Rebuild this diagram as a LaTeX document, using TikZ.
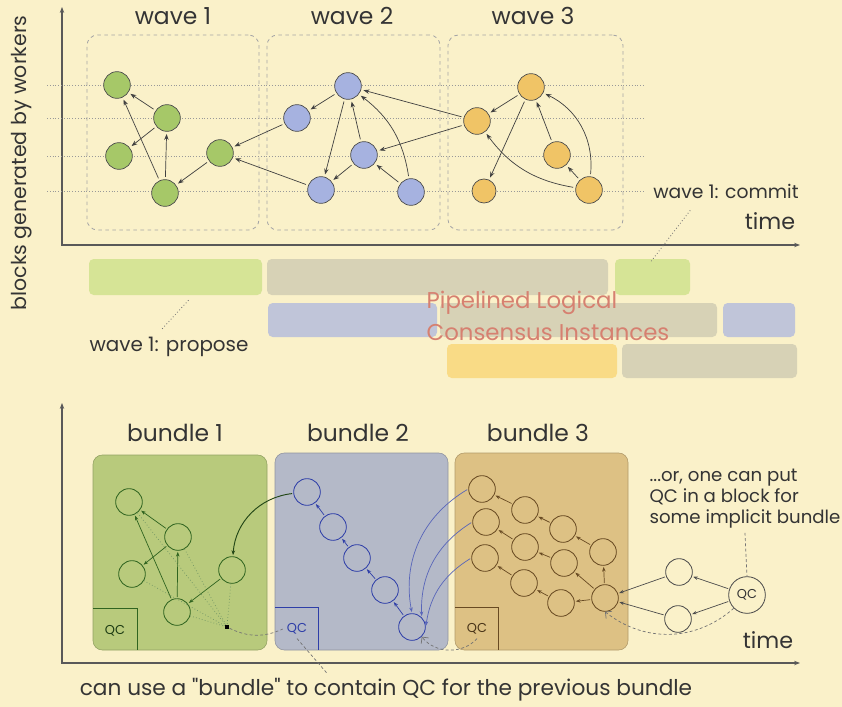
\documentclass[tikz,border=0pt]{standalone}
\usepackage{fontspec}
\setmainfont{Poppins}
\usepackage{tikz}
\usetikzlibrary{arrows.meta,positioning,calc,fit}
\definecolor{paper}{RGB}{250,241,201}
\definecolor{ink}{RGB}{52,52,52}
\definecolor{ballgreen}{RGB}{166,200,104}
\definecolor{ballblue}{RGB}{166,178,224}
\definecolor{ballorange}{RGB}{240,196,102}
\definecolor{bargreen}{RGB}{214,228,150}
\definecolor{bargray}{RGB}{215,210,182}
\definecolor{barblue}{RGB}{192,197,217}
\definecolor{barorange}{RGB}{249,219,134}
\definecolor{bdlgreen}{RGB}{184,202,124}
\definecolor{bdlblue}{RGB}{180,185,200}
\definecolor{bdltan}{RGB}{221,193,132}
\definecolor{strkgreen}{RGB}{48,100,32}
\definecolor{strkblue}{RGB}{46,62,168}
\definecolor{strkbrown}{RGB}{104,74,34}
\definecolor{salmon}{RGB}{214,128,112}

\begin{document}
\begin{tikzpicture}[x=0.03cm, y=-0.03cm,
    lbl/.style={font=\fontsize{17}{20}\selectfont, text=ink},
    title/.style={font=\fontsize{20}{22}\selectfont, text=ink},
    axis/.style={{Stealth[length=5pt]}-{Stealth[length=5pt]}, draw=black!65, line width=0.9pt},
    ball/.style={circle, draw=black!70, line width=0.6pt, minimum size=0.8cm, inner sep=0pt},
    gball/.style={ball, fill=ballgreen},
    bball/.style={ball, fill=ballblue},
    oball/.style={ball, fill=ballorange},
    ring/.style={circle, line width=0.7pt, minimum size=0.8cm, inner sep=0pt},
    wavebox/.style={draw=black!35, dashed, rounded corners=9pt, line width=0.7pt, inner sep=0pt},
    bar/.style={rounded corners=4pt, inner sep=0pt},
    bundlebox/.style={rounded corners=8pt, inner sep=0pt, line width=0.5pt},
    arr/.style={-{Stealth[length=5pt]}, draw=black!75, semithick, shorten >=2pt, shorten <=2pt},
    sarr/.style={-{Stealth[length=4pt]}, line width=0.6pt, shorten >=1pt, shorten <=1pt},
    dotline/.style={dotted, draw=black!55, line width=0.7pt},
    dashline/.style={draw=black!55, dash pattern=on 2.5pt off 2pt, line width=0.6pt}
]
\useasboundingbox (0,0) rectangle (842,707);
\fill[paper] (0,0) rectangle (842,707);

% ---------- upper chart: waves of blocks ----------
\draw[axis] (62,7) -- (62,245) -- (800,245);
\node[lbl, font=\fontsize{17.5}{20}\selectfont, rotate=90] (ylab) at (22,163) {blocks generated by workers};

\foreach \y in {85,118,156,191}
  \draw[dotted, draw=black!40] (47,\y) -- (645,\y);

\node[wavebox, fit={(87,35) (259,230)}] (w1) {};
\node[wavebox, fit={(267,35) (440,230)}] (w2) {};
\node[wavebox, fit={(448,35) (623,230)}] (w3) {};
\node[title] at (173,16) {wave 1};
\node[title] at (352,16) {wave 2};
\node[title] at (533,16) {wave 3};

% wave 1
\node[gball] (g1) at (117,85) {};
\node[gball] (g2) at (167,118) {};
\node[gball] (g3) at (119,156) {};
\node[gball] (g4) at (220,153) {};
\node[gball] (g5) at (165,193) {};
% wave 2
\node[bball] (b1) at (348,86) {};
\node[bball] (b2) at (297,118) {};
\node[bball] (b3) at (364,155) {};
\node[bball] (b4) at (321,190) {};
\node[bball] (b5) at (411,192) {};
% wave 3
\node[oball] (o1) at (531,87) {};
\node[oball] (o2) at (477,121) {};
\node[oball] (o3) at (557,155) {};
\node[oball, minimum size=0.72cm] (o4) at (484,191) {};
\node[oball] (o5) at (589,190) {};

\draw[arr] (g2) -- (g1);
\draw[arr] (g2) -- (g3);
\draw[arr] (g5) -- (g2);
\draw[arr] (g5) -- (g1);
\draw[arr] (g4) -- (g5);

\draw[arr] (b2) -- (g4);
\draw[arr] (b4) -- (g4);
\draw[arr] (b1) -- (b2);
\draw[arr] (b1) -- (b4);
\draw[arr] (b3) -- (b1);
\draw[arr] (b3) -- (b4);
\draw[arr] (b5) -- (b3);
\draw[arr] (b5) to[bend right=22] (b1);

\draw[arr] (o2) -- (b1);
\draw[arr] (o2) -- (b3);
\draw[arr] (o1) -- (o2);
\draw[arr] (o1) -- (o4);
\draw[arr] (o3) -- (o1);
\draw[arr] (o5) -- (o3);
\draw[arr] (o5) to[bend right=35] (o1);
\draw[arr] (o5) to[bend left=22] (o2);

\node[lbl, font=\fontsize{16}{19}\selectfont] (cmt) at (726,191) {wave 1: commit};
\node[lbl, font=\fontsize{19}{20}\selectfont] (t1) at (770,221) {time};

% consensus instances, one row per wave
\node[bar, fill=bargreen, fit={(89,259) (262,295)}] (p1) {};
\node[bar, fill=bargray, fit={(267,259) (608,295)}] (p2) {};
\node[bar, fill=bargreen, fit={(615,259) (690,295)}] (p3) {};
\node[bar, fill=barblue, fit={(268,303) (437,337)}] (q1) {};
\node[bar, fill=bargray, fit={(440,303) (717,337)}] (q2) {};
\node[bar, fill=barblue, fit={(723,303) (795,337)}] (q3) {};
\node[bar, fill=barorange, fit={(447,344) (617,378)}] (r1) {};
\node[bar, fill=bargray, fit={(622,344) (797,378)}] (r2) {};

\node[lbl, font=\fontsize{19.5}{27}\selectfont, text=salmon, align=left] (pipe) at (548,316)
  {Pipelined Logical\\Consensus Instances};
\node[lbl] (prop) at (169,347) {wave 1: propose};

\draw[dotline] ($(cmt.south west)+(41,8)$) -- ($(p3.north west)+(36,3)$);
\draw[dotline] ($(p1.south)+(13,5)$) -- ($(prop.north)+(-8,-3)$);

% ---------- lower chart: bundles ----------
\draw[axis] (62,403) -- (62,663) -- (800,663);

\node[bundlebox, fill=bdlgreen, draw=bdlgreen!80!black, fit={(93,455) (267,650)}] (bd1) {};
\node[bundlebox, fill=bdlblue, draw=bdlblue!80!black, fit={(275,453) (448,650)}] (bd2) {};
\node[bundlebox, fill=bdltan, draw=bdltan!80!black, fit={(455,453) (628,650)}] (bd3) {};
\node[title] at (175,433) {bundle 1};
\node[title] at (358,433) {bundle 2};
\node[title] at (538,433) {bundle 3};

\draw[strkgreen, line width=0.5pt] (93,608) -| (137,650);
\draw[strkblue, line width=0.5pt] (275,607) -| (318,650);
\draw[strkbrown, line width=0.5pt] (455,607) -| (498,650);
\node[font=\fontsize{11}{13}\selectfont, text=strkgreen!60!black] (qc1) at (115,631) {QC};
\node[font=\fontsize{11}{13}\selectfont, text=strkblue] (qc2) at (297,629) {QC};
\node[font=\fontsize{11}{13}\selectfont, text=strkbrown!70!black] (qc3) at (477,629) {QC};

% bundle 1
\node[ring, draw=strkgreen] (n1) at (129,502) {};
\node[ring, draw=strkgreen] (n2) at (178,537) {};
\node[ring, draw=strkgreen] (n3) at (132,574) {};
\node[ring, draw=strkgreen] (n4) at (232,570) {};
\node[ring, draw=strkgreen] (n5) at (177,612) {};
\node[fill=black, minimum size=4pt, inner sep=0pt] (qdot) at (227,627) {};

\foreach \n in {n1,n2,n3,n4,n5}
  \draw[dotted, draw=strkgreen!70, line width=0.6pt] (\n) -- (qdot);
\draw[sarr, strkgreen] (n2) -- (n1);
\draw[sarr, strkgreen] (n2) -- (n3);
\draw[sarr, strkgreen] (n5) -- (n2);
\draw[sarr, strkgreen] (n5) -- (n1);
\draw[sarr, strkgreen] (n4) -- (n5);

% bundle 2
\node[ring, draw=strkblue] (m1) at (307,492) {};
\node[ring, draw=strkblue] (m2) at (333,527) {};
\node[ring, draw=strkblue] (m3) at (357,558) {};
\node[ring, draw=strkblue] (m4) at (385,590) {};
\node[ring, draw=strkblue] (m5) at (412,627) {};
\draw[sarr, strkblue] (m2) -- (m1);
\draw[sarr, strkblue] (m3) -- (m2);
\draw[sarr, strkblue] (m4) -- (m3);
\draw[sarr, strkblue] (m5) -- (m4);
\draw[sarr, strkgreen!70!black, line width=0.8pt] (m1) to[bend right=40] (n4);

% bundle 3
\node[ring, draw=strkbrown] (ka1) at (482,489) {};
\node[ring, draw=strkbrown] (ka2) at (525,510) {};
\node[ring, draw=strkbrown] (ka3) at (563,529) {};
\node[ring, draw=strkbrown] (ka4) at (603,552) {};
\node[ring, draw=strkbrown] (kb1) at (486,522) {};
\node[ring, draw=strkbrown] (kb2) at (525,547) {};
\node[ring, draw=strkbrown] (kb3) at (564,563) {};
\node[ring, draw=strkbrown] (kc1) at (485,558) {};
\node[ring, draw=strkbrown] (kc2) at (524,583) {};
\node[ring, draw=strkbrown] (kc3) at (561,603) {};
\node[ring, draw=strkbrown] (ke) at (605,598) {};
\draw[sarr, strkbrown] (ka2) -- (ka1);
\draw[sarr, strkbrown] (ka3) -- (ka2);
\draw[sarr, strkbrown] (ka4) -- (ka3);
\draw[sarr, strkbrown] (kb2) -- (kb1);
\draw[sarr, strkbrown] (kb3) -- (kb2);
\draw[sarr, strkbrown] (kc2) -- (kc1);
\draw[sarr, strkbrown] (kc3) -- (kc2);
\draw[sarr, strkbrown] (ke) -- (kc3);
\draw[sarr, strkbrown] (ke) -- (kb3);
\draw[sarr, strkbrown] (ke) -- (ka4);

\draw[sarr, strkblue!80] (ka1.west) to[bend right=35] (m5.north);
\draw[sarr, strkblue!80] (kb1.west) to[bend right=30] (m5.north east);
\draw[sarr, strkblue!80] (kc1.west) to[bend right=25] (m5.east);

% QC carried by an outside block
\node[ring, draw=black!70] (s1) at (679,572) {};
\node[ring, draw=black!70] (s2) at (678,619) {};
\node[circle, draw=black!70, line width=0.7pt, minimum size=1.1cm, inner sep=0pt,
  font=\fontsize{11}{13}\selectfont, text=ink] (qcx) at (747,595) {QC};
\draw[sarr, black!70] (qcx) -- (s1);
\draw[sarr, black!70] (qcx) -- (s2);
\draw[sarr, black!70] (s1) -- (ke);
\draw[sarr, black!70] (s2) -- (ke);

\node[lbl, font=\fontsize{15.5}{18}\selectfont, align=left] (orq) at (745,499)
  {...or, one can put\\QC in a block for\\some implicit bundle};
\node[lbl, font=\fontsize{19}{20}\selectfont] (t2) at (768,640) {time};
\node[lbl, font=\fontsize{18.5}{20}\selectfont] (note) at (386,690)
  {can use a \textquotedbl bundle\textquotedbl{} to contain QC for the previous bundle};

% dashed references
\draw[dashline] (qdot) to[bend right=25] (qc2.west);
\draw[dashline, -{Straight Barb[length=4pt]}] (qcx.south west) to[bend left=40] (ke.south);
\draw[dashline, -{Straight Barb[length=4pt]}] (qc3.south) to[bend left=50] (m5.south east);
\draw[dashline] (qc2.south) -- ($(note.north)+(-58,0)$);
\draw[dashline] (orq.south) -- (qcx.north);
\end{tikzpicture}
\end{document}
